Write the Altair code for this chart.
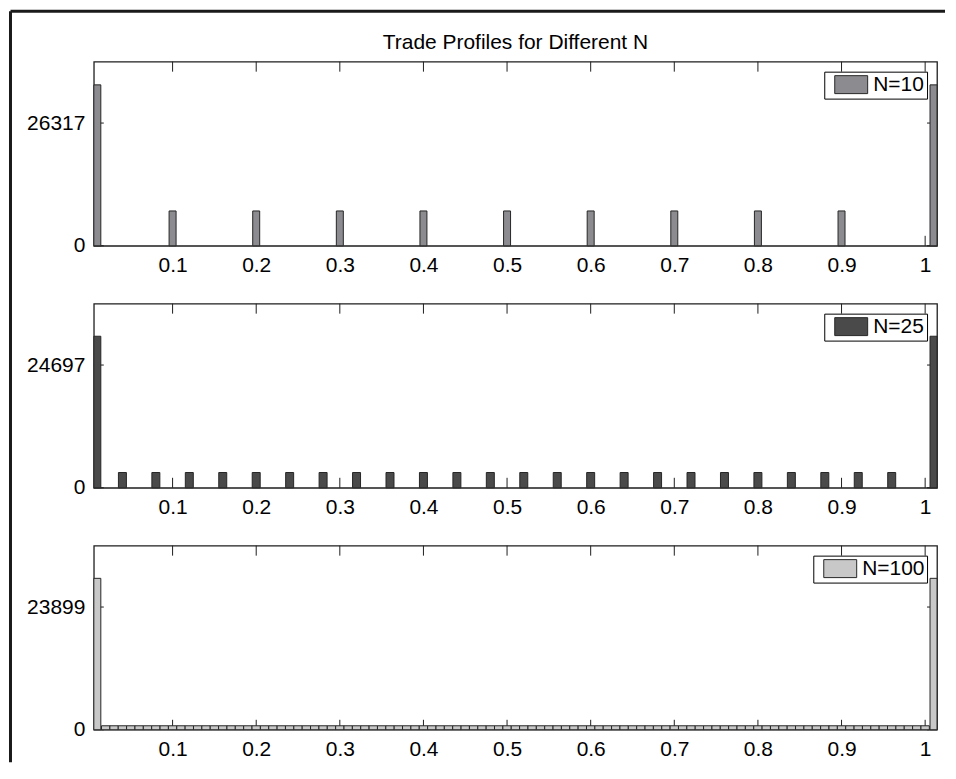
import altair as alt
import pandas as pd

TITLE = "Trade Profiles for Different N"
SERIES = ["N=10", "N=25", "N=100"]
Y_TICK = [26317, 24697, 23899]
FILLS = ["#8c8c90", "#4a4a4a", "#c8c8c8"]
EDGE = "#262626"
FONT = "Liberation Sans"

X_TICKS = [0.1, 0.2, 0.3, 0.4, 0.5, 0.6, 0.7, 0.8, 0.9, 1.0]
END_X = [0.01, 1.01]
END_Y = [[34506, 34506], [30492, 30492], [29487, 29487]]

N10_X = [0.1, 0.2, 0.3, 0.4, 0.5, 0.6, 0.7, 0.8, 0.9]
N10_Y = [7469] * 9

N25_X = [0.04, 0.08, 0.12, 0.16, 0.2, 0.24, 0.28, 0.32, 0.36, 0.4, 0.44, 0.48,
         0.52, 0.56, 0.6, 0.64, 0.68, 0.72, 0.76, 0.8, 0.84, 0.88, 0.92, 0.96]
N25_Y = [3075] * 24

N100_X = [round(k / 100, 2) for k in range(2, 101)]
N100_Y = [778] * 99

MID = [(N10_X, N10_Y, 7), (N25_X, N25_Y, 8), (N100_X, N100_Y, 8.4)]

W = 845
H = 184.5
SP = 57.5


def panel(i):
    label = SERIES[i]
    mid_x, mid_y, mid_w = MID[i]
    xs = alt.Scale(domain=[0.0058, 1.0142], nice=False, zero=False, padding=0)
    ys = alt.Scale(domain=[0, Y_TICK[i] * 1.5], nice=False, zero=True, padding=0)
    xax = alt.Axis(values=X_TICKS, format="~g", ticks=False, domain=False, grid=False,
                   labelFontSize=21, labelPadding=9, labelColor="black", title=None,
                   labelFont=FONT, labelFlush=False)
    yax = alt.Axis(values=[0, Y_TICK[i]], format="d", ticks=False, domain=False, grid=False,
                   labelFontSize=21, labelPadding=9, labelColor="black", title=None,
                   labelFont=FONT)
    legend = alt.Legend(orient="top-right", title=None, offset=10, padding=2.5,
                        strokeColor="black", fillColor="white",
                        symbolType="M-1.65,-0.9H1.65V0.9H-1.65Z", symbolSize=400,
                        symbolStrokeColor=EDGE, symbolStrokeWidth=1, symbolOffset=14,
                        labelFontSize=21, labelOffset=11.5, labelFont=FONT,
                        labelExpr="datum.label + ' '",
                        labelColor="black", cornerRadius=0, labelLimit=200)
    color = alt.Color("series:N", scale=alt.Scale(domain=[label], range=[FILLS[i]]),
                      legend=legend)

    mid_df = pd.DataFrame({"x": mid_x, "y": mid_y, "series": label})
    end_df = pd.DataFrame({"x": END_X, "y": END_Y[i], "series": label})
    xt_df = pd.DataFrame({"x": X_TICKS})
    yt_df = pd.DataFrame({"y": [0, Y_TICK[i]]})

    top_t = alt.Chart(xt_df).mark_rule(color="#1e1e1e", strokeWidth=1).encode(
        x=alt.X("x:Q", scale=xs, axis=xax), y=alt.value(0), y2=alt.value(10))
    bot_t = alt.Chart(xt_df).mark_rule(color="#1e1e1e", strokeWidth=1).encode(
        x=alt.X("x:Q", scale=xs, axis=xax), y=alt.value(H - 10), y2=alt.value(H))
    left_t = alt.Chart(yt_df).mark_rule(color="#1e1e1e", strokeWidth=1).encode(
        y=alt.Y("y:Q", scale=ys, axis=yax), x=alt.value(0), x2=alt.value(10))
    right_t = alt.Chart(yt_df).mark_rule(color="#1e1e1e", strokeWidth=1).encode(
        y=alt.Y("y:Q", scale=ys, axis=yax), x=alt.value(W - 10), x2=alt.value(W))

    mid = alt.Chart(mid_df).mark_bar(size=mid_w, stroke=EDGE, strokeWidth=1,
                                     orient="vertical").encode(
        x=alt.X("x:Q", scale=xs, axis=xax), y=alt.Y("y:Q", scale=ys, axis=yax),
        color=color)
    ends = alt.Chart(end_df).mark_bar(size=7, stroke=EDGE, strokeWidth=1,
                                      orient="vertical").encode(
        x=alt.X("x:Q", scale=xs, axis=xax), y=alt.Y("y:Q", scale=ys, axis=yax),
        color=color)

    layers = [top_t, bot_t, left_t, right_t, mid, ends]
    if i == 2:
        frame_df = pd.DataFrame({"k": [0]})
        left_line = alt.Chart(frame_df).mark_rule(color="#1a1a1a", strokeWidth=3).encode(
            x=alt.value(-83.5), y=alt.value(-535.5), y2=alt.value(217))
        top_line = alt.Chart(frame_df).mark_rule(color="#1a1a1a", strokeWidth=3).encode(
            x=alt.value(-83.5), x2=alt.value(853), y=alt.value(-535.5))
        layers += [left_line, top_line]

    props = dict(width=W, height=H)
    if i == 0:
        props["title"] = alt.TitleParams(TITLE, anchor="middle", frame="group",
                                         fontSize=21, fontWeight="normal", color="black",
                                         font=FONT, offset=12.6, baseline="alphabetic",
                                         dy=21)
    return alt.layer(*layers).properties(**props)


chart = alt.vconcat(panel(0), panel(1), panel(2), spacing=SP, bounds="flush").resolve_scale(
    color="independent", x="independent", y="independent"
).resolve_legend(color="independent").properties(
    padding=0
).configure(font=FONT).configure_view(stroke="#1e1e1e", strokeWidth=1.3)

chart.save("out.html", embed_options={"renderer": "svg", "actions": False})
